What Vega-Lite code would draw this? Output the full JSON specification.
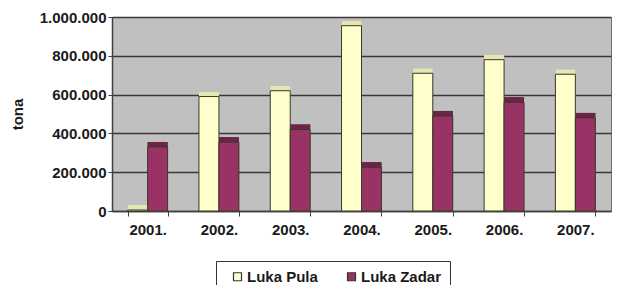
{
  "$schema": "https://vega.github.io/schema/vega-lite/v6.json",
  "width": 499,
  "height": 194,
  "padding": {"left": 10, "right": 5, "top": 10, "bottom": 2},
  "background": "white",
  "config": {
    "locale": {"number": {"decimal": ",", "thousands": ".", "grouping": [3], "currency": ["", ""]}},
    "font": "Liberation Sans",
    "view": {"fill": "#C0C0C0", "stroke": "#707070", "strokeWidth": 1},
    "axis": {"labelFont": "Liberation Sans", "labelFontWeight": "bold", "labelFontSize": 15, "labelColor": "#1a1a1a", "titleFont": "Liberation Sans", "titleFontWeight": "bold", "titleFontSize": 15, "titleColor": "#1a1a1a", "domainColor": "#404040", "tickColor": "#404040", "labelOverlap": false}
  },
  "data": {"values": [
    {"year": "2001.", "port": "Luka Pula", "t": 5000},
    {"year": "2001.", "port": "Luka Zadar", "t": 330000},
    {"year": "2002.", "port": "Luka Pula", "t": 590000},
    {"year": "2002.", "port": "Luka Zadar", "t": 355000},
    {"year": "2003.", "port": "Luka Pula", "t": 620000},
    {"year": "2003.", "port": "Luka Zadar", "t": 420000},
    {"year": "2004.", "port": "Luka Pula", "t": 955000},
    {"year": "2004.", "port": "Luka Zadar", "t": 225000},
    {"year": "2005.", "port": "Luka Pula", "t": 710000},
    {"year": "2005.", "port": "Luka Zadar", "t": 490000},
    {"year": "2006.", "port": "Luka Pula", "t": 780000},
    {"year": "2006.", "port": "Luka Zadar", "t": 560000},
    {"year": "2007.", "port": "Luka Pula", "t": 705000},
    {"year": "2007.", "port": "Luka Zadar", "t": 480000}
  ]},
  "encoding": {
    "x": {"field": "year", "type": "nominal", "title": null, "scale": {"paddingInner": 0.44, "paddingOuter": 0.22},
      "axis": {"labelAngle": 0, "labelPadding": 6, "ticks": true, "tickBand": "extent", "tickSize": 5, "domain": true, "domainWidth": 1.5}},
    "xOffset": {"field": "port", "type": "nominal", "sort": ["Luka Pula", "Luka Zadar"]},
    "y": {"field": "t", "type": "quantitative", "title": "tona", "scale": {"domain": [0, 1000000]},
      "axis": {"format": ",d", "values": [0, 200000, 400000, 600000, 800000, 1000000], "gridColor": "#383838", "gridWidth": 1.5, "titlePadding": 14, "labelPadding": 2, "tickSize": 4, "domainWidth": 1.5}}
  },
  "layer": [
    {
      "mark": {"type": "bar", "xOffset": 6, "yOffset": -5, "strokeWidth": 0},
      "encoding": {
        "fill": {"condition": {"test": "datum.port === 'Luka Pula'", "value": "#8c8c8c"}, "value": "#333333"}
      }
    },
    {
      "mark": {"type": "tick", "xOffset": 3, "yOffset": -2.5, "thickness": 5, "size": 20, "opacity": 1},
      "encoding": {
        "color": {"condition": {"test": "datum.port === 'Luka Pula'", "value": "#E6E6B4"}, "value": "#6E2446"}
      }
    },
    {
      "mark": {"type": "bar", "stroke": "#3a3a2a", "strokeWidth": 1},
      "encoding": {
        "fill": {"field": "port", "type": "nominal", "scale": {"domain": ["Luka Pula", "Luka Zadar"], "range": ["#FFFFCC", "#993366"]},
          "legend": {"title": null, "orient": "none", "legendX": 104, "legendY": 244, "direction": "horizontal", "symbolType": "square", "symbolStrokeColor": "#333", "symbolStrokeWidth": 1.2, "symbolSize": 64, "labelFont": "Liberation Sans", "labelFontWeight": "bold", "labelFontSize": 15, "labelColor": "#1a1a1a", "strokeColor": "#333", "fillColor": "white", "padding": 8, "columnPadding": 20, "symbolOffset": 6, "labelOffset": 2}}
      }
    }
  ]
}
